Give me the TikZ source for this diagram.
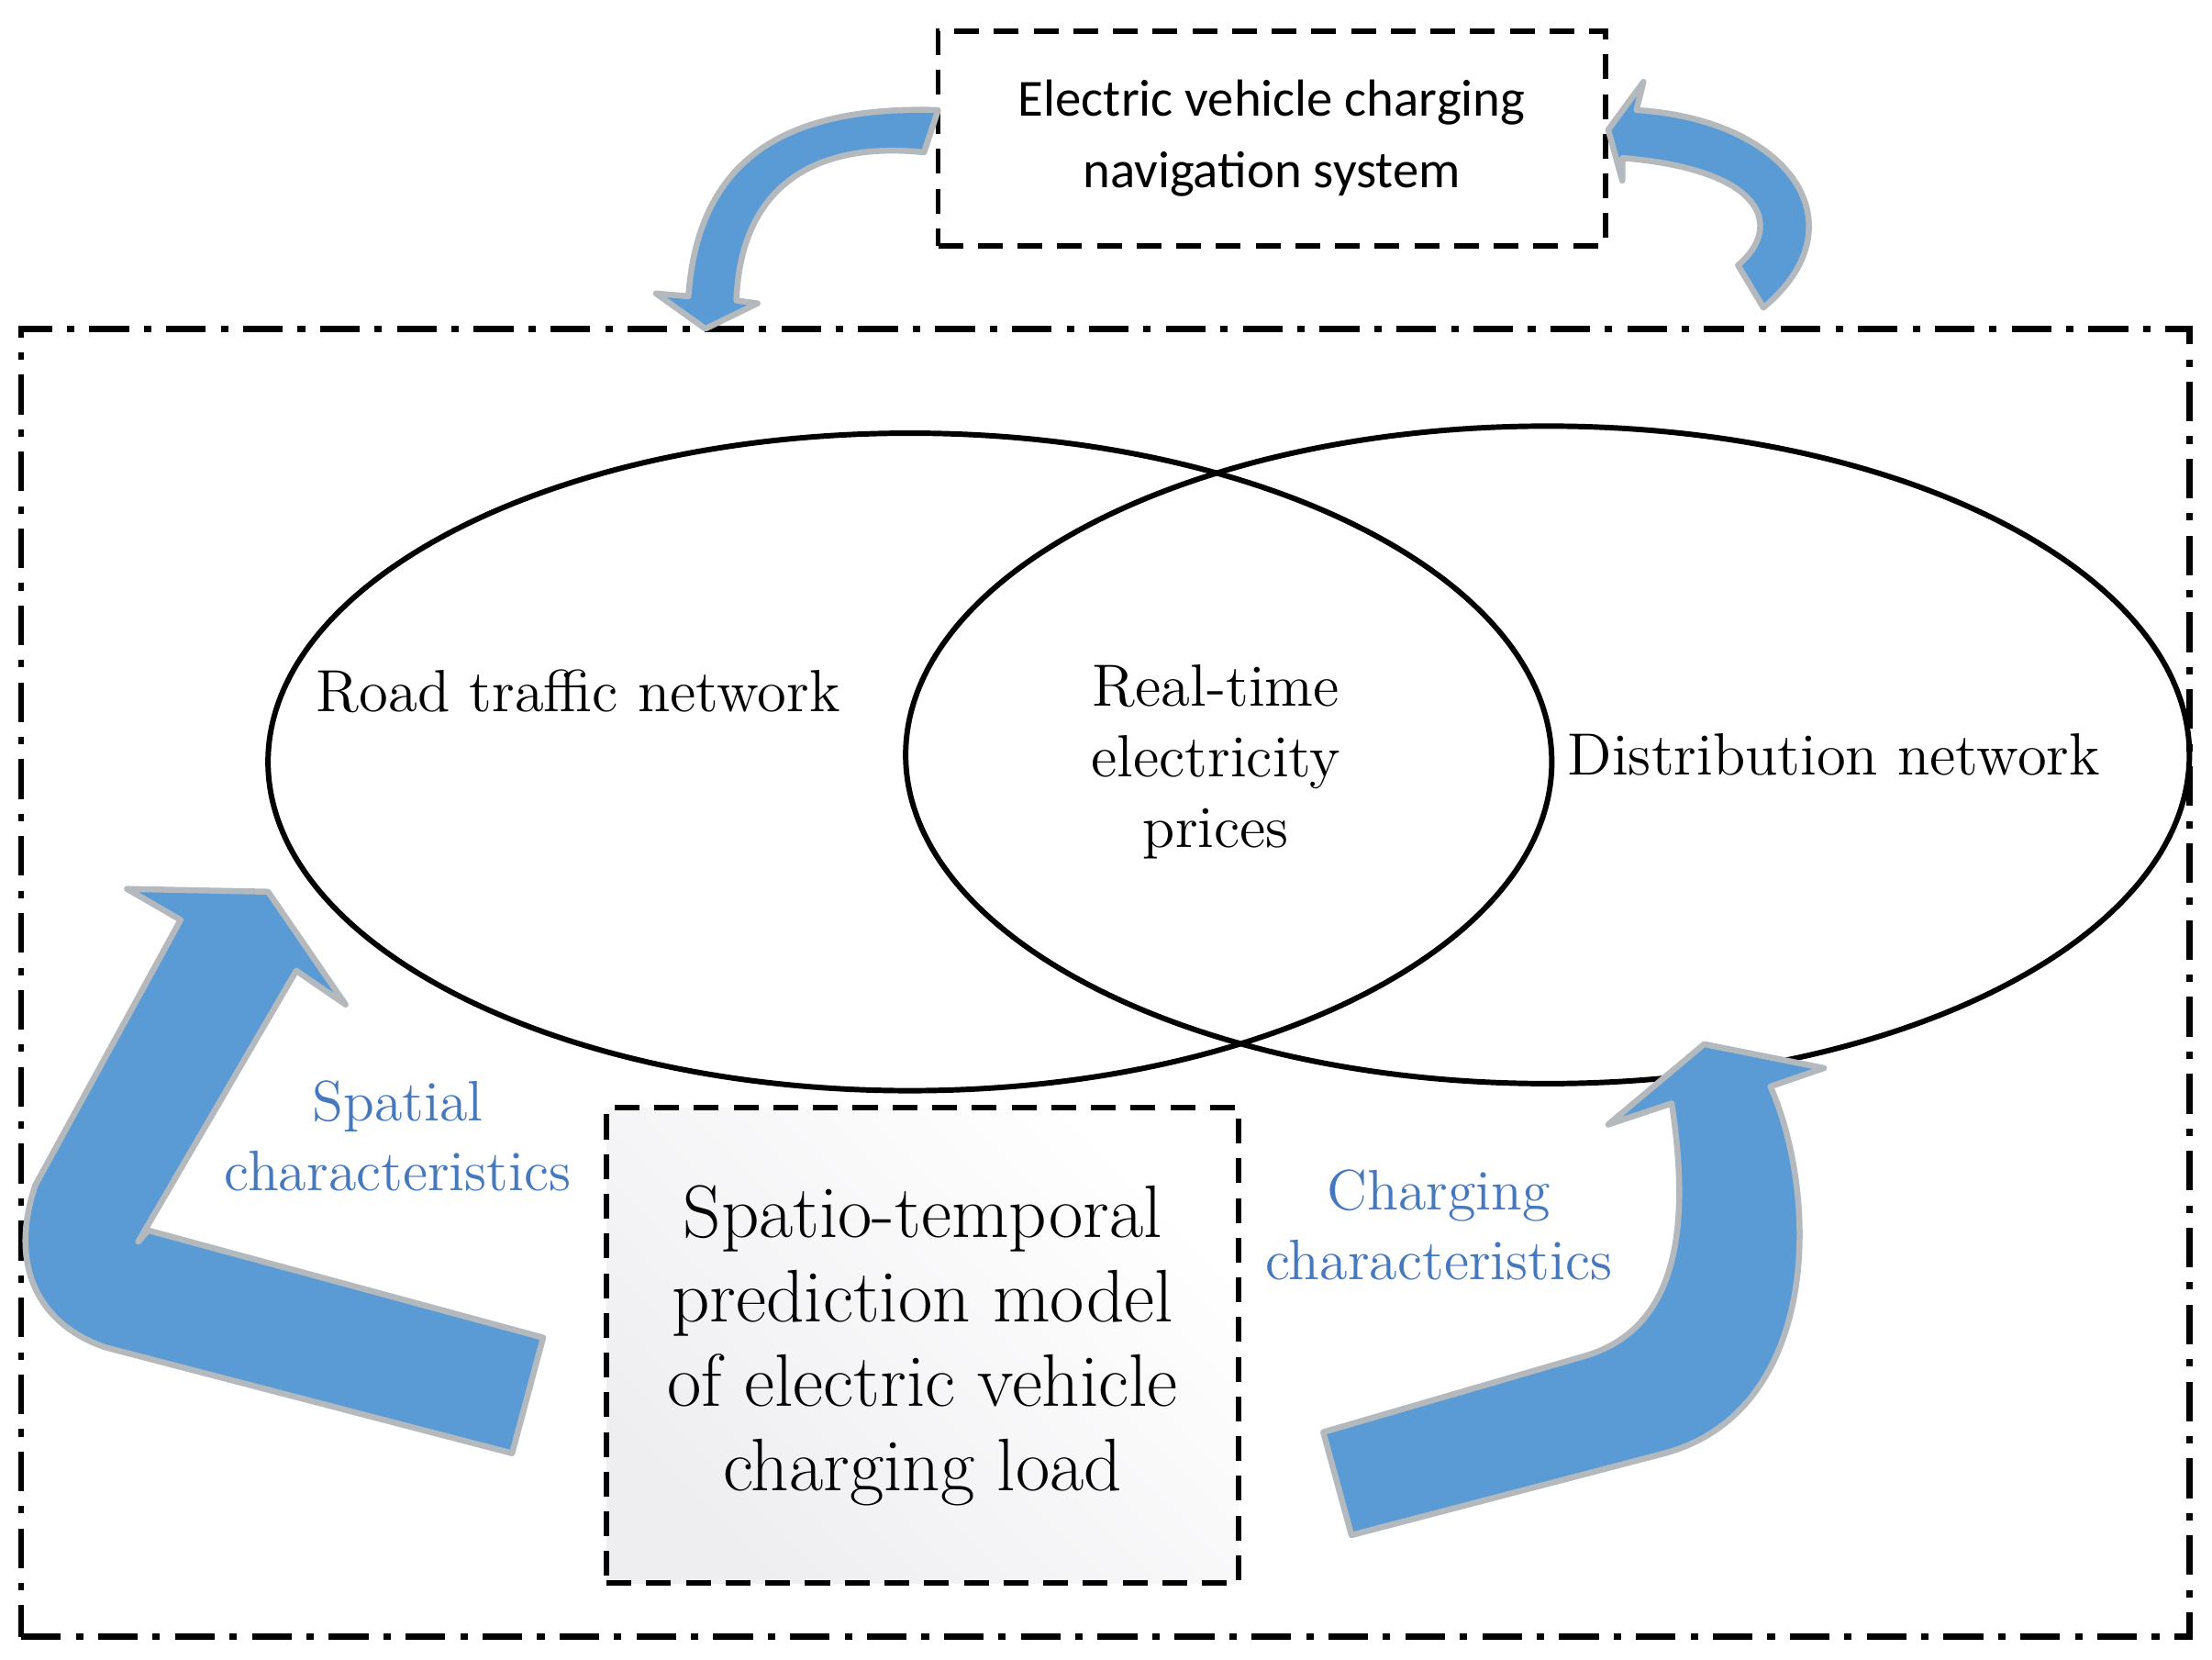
\documentclass[tikz,border=0pt]{standalone}
\usepackage{fontspec}
\newfontfamily\carl{Carlito}
\definecolor{arrblue}{RGB}{91,155,213}
\definecolor{lblblue}{RGB}{70,120,190}
\definecolor{arrline}{RGB}{180,185,190}
\tikzset{
  bigarrow/.style={fill=arrblue,draw=arrline,line width=1.2pt,line join=round},
  ell/.style={draw=black,line width=1.1pt,ellipse},
  lbl/.style={text=lblblue,font=\fontsize{11.5}{14}\selectfont,align=center},
}
\begin{document}
\begin{tikzpicture}[x=0.01cm,y=-0.01cm]
\useasboundingbox (0,0) rectangle (1568,1176);
% outer dash-dot frame
\node[draw,line width=1.2pt,dash pattern=on 8pt off 3pt on 1.5pt off 3pt,minimum width=1537*0.01cm,minimum height=927*0.01cm,inner sep=0pt] (frame) at (783.5,696.5) {};
% top box
\node[draw,line width=1.1pt,dash pattern=on 5pt off 3pt,minimum width=473*0.01cm,minimum height=152*0.01cm,align=center,font=\carl\fontsize{10.5}{14.5}\selectfont] (nav) at (901.5,98) {Electric vehicle charging\\navigation system};
% ellipses
\draw[line width=1.1pt] (645,540) ellipse [x radius=455,y radius=233];
\draw[line width=1.1pt] (1097,535) ellipse [x radius=455,y radius=233];
\node[font=\fontsize{12}{14.2}\selectfont] (road) at (410,490) {Road traffic network};
\node[font=\fontsize{12}{14.2}\selectfont,align=center] (price) at (862,540) {Real-time\\electricity\\prices};
\node[font=\fontsize{12}{14.2}\selectfont] (dist) at (1300,535) {Distribution network};
% bottom box
\shade[top color=white,bottom color=white,left color=blue!10!gray!12,right color=white,shading angle=135] (430,785) rectangle (878,1122);
\node[draw,line width=1.1pt,dash pattern=on 5pt off 3pt,minimum width=448*0.01cm,minimum height=337*0.01cm,align=center,font=\fontsize{15}{17}\selectfont] (model) at (654,953.5) {Spatio-temporal\\prediction model\\of electric vehicle\\charging load};
\node[lbl] (spat) at (282,805) {Spatial\\characteristics};
\node[lbl] (charg) at (1020,868) {Charging\\characteristics};
% big left arrow
\draw[bigarrow] (385,948) -- (105,872) -- (98,880) -- (210,688) -- (245,712) -- (190,632) -- (90,630) -- (128,652) -- (25,840) .. controls (5,900) and (30,940) .. (75,955) -- (363,1030) -- cycle;
% big right arrow
\draw[bigarrow] (938,1015) -- (1120,962) .. controls (1185,945) and (1200,880) .. (1185,782) -- (1140,797) -- (1208,740) -- (1293,757) -- (1255,770) .. controls (1290,850) and (1290,1000) .. (1180,1030) -- (958,1088) -- cycle;
% top left arrow
\draw[bigarrow] (665,78) .. controls (560,75) and (495,110) .. (488,210) -- (465,208) -- (500,233) -- (537,215) -- (522,213) .. controls (525,130) and (580,100) .. (655,108) -- cycle;
% top right arrow
\draw[bigarrow] (1140,92) -- (1165,58) -- (1160,78) .. controls (1270,85) and (1320,160) .. (1250,218) -- (1232,188) .. controls (1265,160) and (1250,120) .. (1150,112) -- (1150,128) -- cycle;
\end{tikzpicture}
\end{document}
